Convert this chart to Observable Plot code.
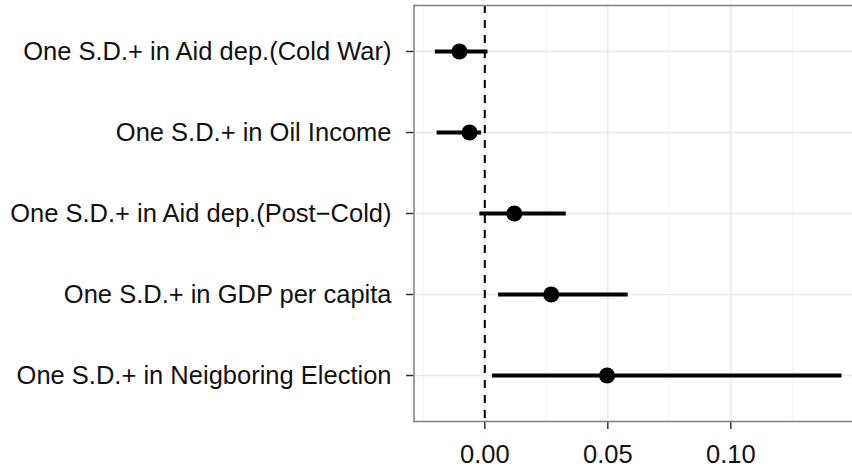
<!DOCTYPE html>
<html>
<head>
<meta charset="utf-8">
<script src="https://cdn.jsdelivr.net/npm/d3@7"></script>
<script src="https://cdn.jsdelivr.net/npm/@observablehq/plot@0.6"></script>
<style>
  html, body { margin: 0; padding: 0; background: #fff; }
  #chart svg { display: block; }
</style>
</head>
<body>
<div id="chart"></div>
<script>
const categories = [
  "One S.D.+ in Aid dep.(Cold War)",
  "One S.D.+ in Oil Income",
  "One S.D.+ in Aid dep.(Post\u2212Cold)",
  "One S.D.+ in GDP per capita",
  "One S.D.+ in Neigboring Election"
];
const estimates = [-0.0103, -0.0062, 0.0120, 0.0270, 0.0497];
const lower = [-0.0203, -0.0196, -0.0022, 0.0054, 0.0029];
const upper = [0.0011, -0.0015, 0.0329, 0.0581, 0.1450];
const majorTicks = [0, 0.05, 0.10];
const minorTicks = [-0.025, 0.025, 0.075, 0.125];
const xDomain = [-0.02878, 0.14947];

const rows = categories.map((c, i) => ({label: c, est: estimates[i], lo: lower[i], hi: upper[i]}));

const chart = Plot.plot({
  width: 852,
  height: 467,
  marginLeft: 413.5,
  marginRight: 0,
  marginTop: 5,
  marginBottom: 46,
  style: {fontFamily: "'Liberation Sans', Arial, sans-serif", fontSize: "25.5px", color: "#111", background: "#fff"},
  x: {domain: xDomain, label: null},
  y: {type: "point", domain: categories, range: [50, 376.5], padding: 0, label: null},
  marks: [
    Plot.ruleX(minorTicks, {stroke: "#f4f4f4", strokeWidth: 1}),
    Plot.ruleX(majorTicks, {stroke: "#ebebeb", strokeWidth: 1.5}),
    Plot.ruleY(categories, {stroke: "#ebebeb", strokeWidth: 1.5}),
    Plot.ruleX([0], {stroke: "#000", strokeWidth: 2, strokeDasharray: "8,7"}),
    Plot.link(rows, {x1: "lo", x2: "hi", y1: "label", y2: "label", stroke: "#000", strokeWidth: 4}),
    Plot.dot(rows, {x: "est", y: "label", r: 8, fill: "#000", stroke: "none"}),
    Plot.axisX({ticks: majorTicks, tickFormat: d3.format(".2f"), tickSize: 8, tickPadding: 15, stroke: "#333", strokeWidth: 1.5, fill: "#111", label: null}),
    Plot.axisY({tickSize: 7.5, tickPadding: 15, stroke: "#333", strokeWidth: 1.5, fill: "#111", label: null}),
    Plot.frame({anchor: "left", stroke: "#7f7f7f", strokeWidth: 1.5}),
    Plot.frame({anchor: "top", stroke: "#7f7f7f", strokeWidth: 1.5}),
    Plot.frame({anchor: "bottom", stroke: "#7f7f7f", strokeWidth: 1.5})
  ]
});
document.getElementById("chart").appendChild(chart);
</script>
</body>
</html>
